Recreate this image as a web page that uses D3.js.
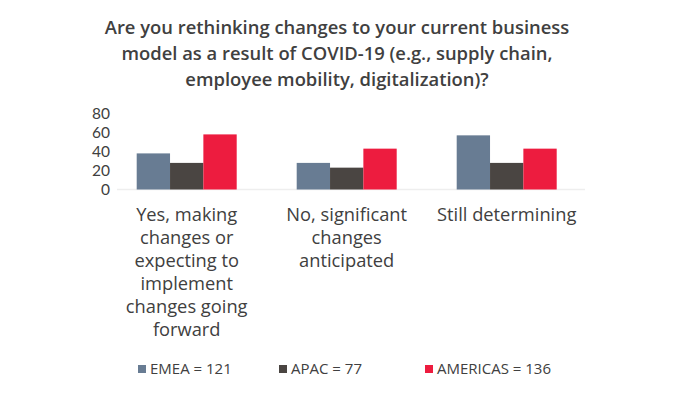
<!DOCTYPE html>
<html><head><meta charset="utf-8">
<script src="https://cdn.jsdelivr.net/npm/d3@7"></script>
<style>body{margin:0;background:#fff}svg{display:block}</style>
</head><body><svg id="c" width="676" height="400"></svg>
<script>
const titleLines = ["Are you rethinking changes to your current business",
  "model as a result of COVID-19 (e.g., supply chain,",
  "employee mobility, digitalization)?"];
const categories = ["Yes", "No", "Still"];
const categoryLabels = [
  ["Yes, making", "changes or", "expecting to", "implement", "changes going", "forward"],
  ["No, significant", "changes", "anticipated"],
  ["Still determining"]];
const seriesNames = ["EMEA = 121", "APAC = 77", "AMERICAS = 136"];
const emea = [38, 28, 57];
const apac = [28, 23, 28];
const americas = [58, 43, 43];
const yTicks = [0, 20, 40, 60, 80];
const colors = ["#687c93", "#4a4542", "#ed1c3f"];

const series = [emea, apac, americas];
const svg = d3.select("#c");
const font = "'Open Sans', sans-serif";
const txt = "#404040";

svg.append("g").selectAll("text").data(titleLines).join("text")
  .attr("x", 337).attr("y", (d, i) => 34 + i * 26)
  .attr("text-anchor", "middle").attr("font-family", font)
  .attr("font-size", 18.4).attr("font-weight", 600).attr("fill", txt).text(d => d);

const x0 = d3.scaleBand().domain(categories).range([106.7, 586.7]).paddingInner(0.375).paddingOuter(0.1875);
const x1 = d3.scaleBand().domain(d3.range(3)).range([0, x0.bandwidth()]);
const y = d3.scaleLinear().domain([0, 80]).range([189.5, 113.5]);

// axis baseline
svg.append("line").attr("x1", 117).attr("x2", 585).attr("y1", y(0)).attr("y2", y(0))
  .attr("stroke", "#eeeeee").attr("stroke-width", 1.5);

const groups = svg.append("g").selectAll("g").data(categories).join("g")
  .attr("transform", c => `translate(${x0(c)},0)`);
groups.selectAll("rect").data((c, ci) => series.map((s, si) => ({si, v: s[ci]}))).join("rect")
  .attr("x", d => x1(d.si)).attr("width", x1.bandwidth())
  .attr("y", d => y(d.v)).attr("height", d => y(0) - y(d.v))
  .attr("fill", d => colors[d.si]);

const yAxis = svg.append("g").attr("transform", "translate(110,0)")
  .call(d3.axisLeft(y).tickValues(yTicks).tickSize(0).tickPadding(0));
yAxis.select(".domain").remove();
yAxis.selectAll("text").attr("font-family", "Lato, sans-serif").attr("font-size", 15.5).attr("fill", txt);

const xl = svg.append("g").selectAll("text").data(categories).join("text")
  .attr("x", c => x0(c) + x0.bandwidth() / 2).attr("y", 221)
  .attr("text-anchor", "middle").attr("font-family", font).attr("font-size", 18.3).attr("fill", txt);
xl.each(function(c, i) {
  d3.select(this).selectAll("tspan").data(categoryLabels[i]).join("tspan")
    .attr("x", x0(c) + x0.bandwidth() / 2).attr("dy", (d, j) => j ? 23 : 0).text(d => d);
});

const legX = [138, 279, 425];
const leg = svg.append("g").selectAll("g").data(seriesNames).join("g")
  .attr("transform", (d, i) => `translate(${legX[i]},365)`);
leg.append("rect").attr("width", 8).attr("height", 8).attr("fill", (d, i) => colors[i]);
leg.append("text").attr("x", 12).attr("y", 9).attr("font-family", font)
  .attr("font-size", 15).attr("fill", txt).text(d => d);
</script></body></html>
